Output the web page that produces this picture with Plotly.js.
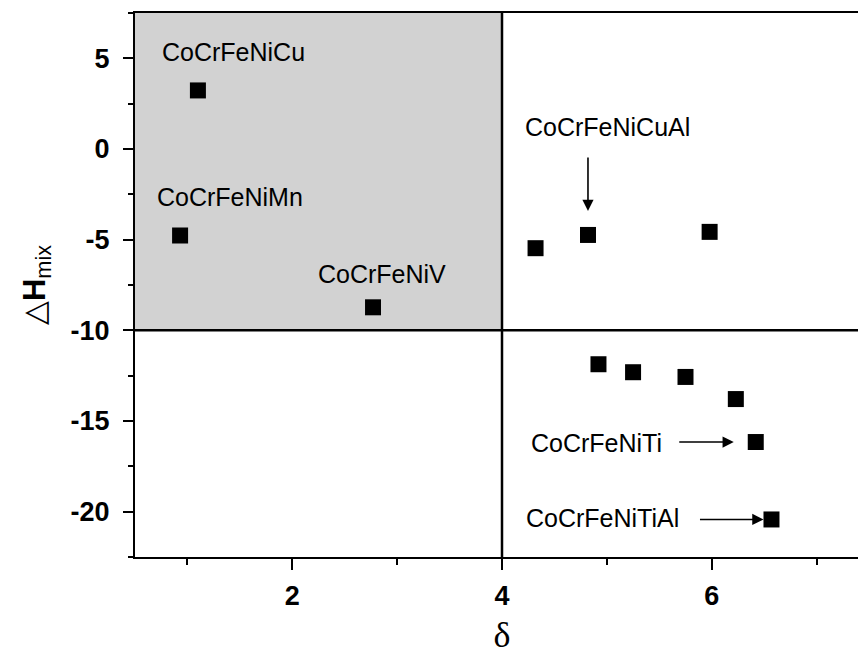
<!DOCTYPE html>
<html>
<head>
<meta charset="utf-8">
<script src="https://cdn.plot.ly/plotly-3.0.1.min.js"></script>
<style>
  html, body { margin: 0; padding: 0; overflow: hidden; background: #fff; }
  #chart { width: 880px; height: 655px; }
</style>
</head>
<body>
<div id="chart"></div>
<script>
// Data
const delta = [1.10, 0.93, 2.77, 4.32, 4.82, 5.98, 4.92, 5.25, 5.75, 6.23, 6.42, 6.57];
const dHmix = [3.23, -4.77, -8.73, -5.47, -4.74, -4.57, -11.87, -12.31, -12.57, -13.79, -16.16, -20.43];
const alloyNames = ['CoCrFeNiCu', 'CoCrFeNiMn', 'CoCrFeNiV', 'CoCrFeNiCuAl', 'CoCrFeNiTi', 'CoCrFeNiTiAl'];
const xTicks = [2, 4, 6];
const yTicks = [-20, -15, -10, -5, 0, 5];

const trace = {
  x: delta, y: dHmix, type: 'scatter', mode: 'markers',
  marker: { symbol: 'square', size: 16, color: '#000' },
  hoverinfo: 'skip', showlegend: false
};

const labelFont = { family: 'Liberation Sans, Arial, sans-serif', size: 25, color: '#000' };
function label(text, x, y) {
  return { text: text, x: x, y: y, xref: 'x', yref: 'y', showarrow: false, font: labelFont, xanchor: 'center', yanchor: 'middle' };
}
function arrow(i, ax, ay, standoff) {
  return { text: '', x: delta[i], y: dHmix[i], xref: 'x', yref: 'y', showarrow: true,
    ax: ax, ay: ay, axref: 'pixel', ayref: 'pixel', arrowhead: 2, arrowsize: 1.4, arrowwidth: 1.6,
    arrowcolor: '#000', standoff: standoff };
}

const tickFont = { family: 'Liberation Sans, Arial, sans-serif', size: 27, color: '#000', weight: 'bold' };

const layout = {
  width: 880, height: 655,
  margin: { l: 135, r: 11, t: 13, b: 98 },
  paper_bgcolor: '#fff', plot_bgcolor: '#fff',
  xaxis: {
    range: [0.5, 7.5], tickvals: xTicks, ticktext: xTicks.map(String),
    showgrid: false, zeroline: false, showline: true, linecolor: '#000', linewidth: 2, mirror: true,
    ticks: 'outside', ticklen: 11, tickwidth: 2, tickcolor: '#000', tickfont: tickFont, ticklabelstandoff: 3,
    minor: { tickvals: [1, 3, 5, 7], ticks: 'outside', ticklen: 6, tickwidth: 2, tickcolor: '#000', showgrid: false },
    title: { text: 'δ', font: { family: 'Liberation Serif, Times New Roman, serif', size: 36, color: '#000' }, standoff: 16 }
  },
  yaxis: {
    range: [-22.5, 7.5], tickvals: yTicks, ticktext: yTicks.map(String),
    showgrid: false, zeroline: false, showline: true, linecolor: '#000', linewidth: 2, mirror: true,
    ticks: 'outside', ticklen: 10, tickwidth: 2, tickcolor: '#000', tickfont: tickFont, ticklabelstandoff: 8,
    minor: { tickvals: [-22.5, -17.5, -12.5, -7.5, -2.5, 2.5, 7.5], ticks: 'outside', ticklen: 5, tickwidth: 2, tickcolor: '#000', showgrid: false },
    title: { text: '△<b>H</b><sub>mix</sub>', font: { family: 'Liberation Sans, Arial, sans-serif', size: 31, color: '#000' }, standoff: 16 }
  },
  shapes: [
    { type: 'rect', xref: 'x', yref: 'y', x0: 0.5, x1: 4, y0: -10, y1: 7.5, fillcolor: '#d2d2d2', line: { width: 0 }, layer: 'below' },
    { type: 'line', xref: 'x', yref: 'paper', x0: 4, x1: 4, y0: 0, y1: 1, line: { color: '#000', width: 2.5 } },
    { type: 'line', xref: 'paper', yref: 'y', x0: 0, x1: 1, y0: -10, y1: -10, line: { color: '#000', width: 2.5 } }
  ],
  annotations: [
    label(alloyNames[0], 1.435, 5.36),
    label(alloyNames[1], 1.41, -2.65),
    label(alloyNames[2], 2.857, -6.89),
    label(alloyNames[3], 5.01, 1.19),
    label(alloyNames[4], 4.905, -16.23),
    label(alloyNames[5], 4.96, -20.37),
    arrow(4, 0, -79, 24),
    arrow(10, -78, 0, 22),
    arrow(11, -73, 0, 8)
  ]
};

Plotly.newPlot('chart', [trace], layout, { staticPlot: true, displayModeBar: false });
</script>
</body>
</html>
